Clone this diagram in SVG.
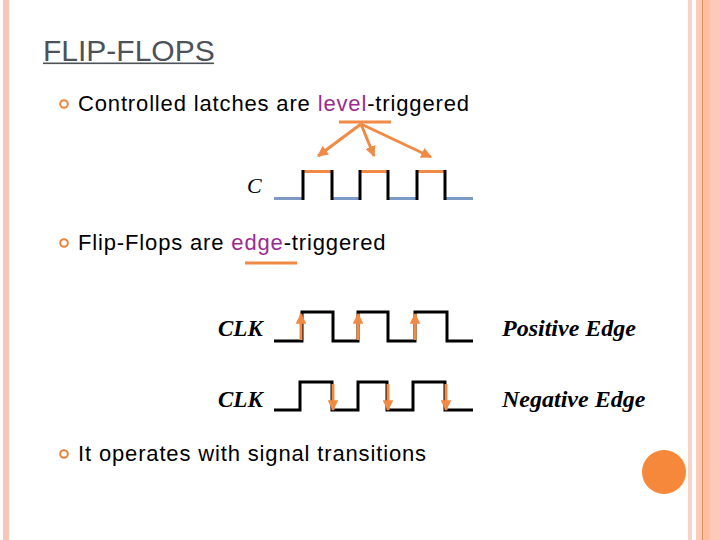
<svg xmlns="http://www.w3.org/2000/svg" width="720" height="540" viewBox="0 0 720 540">
<defs>
<style>
.t{font-family:"Liberation Sans",Arial,sans-serif;fill:#000;font-size:22px;letter-spacing:0.85px}
.tm{font-family:"Liberation Serif","Times New Roman",serif;font-style:italic;font-weight:bold;fill:#000}
.blk{fill:none;stroke:#000;stroke-width:3}
.org{fill:none;stroke:#f08a44;stroke-width:3}
.blu{fill:none;stroke:#7b9ac6;stroke-width:3}
.bul{fill:none;stroke:#e8843c;stroke-width:2}
</style>
<marker id="ah" viewBox="0 0 10 10" refX="9" refY="5" markerWidth="3.6" markerHeight="3.6" orient="auto" markerUnits="strokeWidth">
<path d="M0,0 L10,5 L0,10 z" fill="#f08a44"/>
</marker>
</defs>
<rect width="720" height="540" fill="#fff"/>
<g id="borders">
<rect x="3" y="0" width="6" height="540" fill="#f9c6b3"/>
<rect x="688" y="0" width="4" height="540" fill="#f8d2c2"/>
<rect x="696" y="0" width="6" height="540" fill="#fbcbb6"/>
<rect x="702" y="0" width="1.5" height="540" fill="#d98e5e"/>
<rect x="703.5" y="0" width="6.5" height="540" fill="#fdbf9f"/>
<rect x="710" y="0" width="10" height="540" fill="#fdc9b8"/>
</g>
<g id="title">
<text x="43" y="61" font-family="Liberation Sans, Arial, sans-serif" font-size="30" fill="#4d5259">FLIP-FLOPS</text>
<rect x="43" y="62.5" width="171" height="1.6" fill="#4d5259"/>
</g>
<g id="bullet1">
<circle cx="64" cy="104" r="3.8" class="bul"/>
<text x="78" y="111" class="t">Controlled latches are <tspan style="fill:#9c2c91">level</tspan>-triggered</text>
<line x1="339" y1="122" x2="391" y2="122" class="org"/>
</g>
<g id="c-wave">
<text x="247" y="193" font-family="Liberation Serif, Times New Roman, serif" font-style="italic" font-size="22">C</text>
<path d="M274,198.5 H303 M332,198.5 H360 M388,198.5 H417 M445,198.5 H473" class="blu"/>
<path d="M303,171.5 H332 M360,171.5 H388 M417,171.5 H445" class="org"/>
<path d="M303,200 V170 M332,200 V170 M360,200 V170 M388,200 V170 M417,200 V170 M445,200 V170" class="blk"/>
</g>
<g id="bullet2">
<circle cx="64" cy="243" r="3.8" class="bul"/>
<text x="78" y="250" class="t">Flip-Flops are <tspan style="fill:#9c2c91">edge</tspan>-triggered</text>
<line x1="245" y1="263" x2="297" y2="263" class="org"/>
</g>
<g id="clk-pos">
<text x="218" y="336" class="tm" font-size="23">CLK</text>
<path d="M274,341 H302 V312 H333 V341 H358 V312 H388 V341 H415 V312 H447 V341 H473" class="blk"/>
<text x="502" y="336" class="tm" font-size="24">Positive Edge</text>
</g>
<g id="clk-neg">
<text x="218" y="407" class="tm" font-size="23">CLK</text>
<path d="M274,410 H300 V382 H332 V410 H358 V382 H387 V410 H413 V382 H445 V410 H473" class="blk"/>
<text x="502" y="407" class="tm" font-size="24">Negative Edge</text>
</g>
<g id="bullet3">
<circle cx="64" cy="454" r="3.8" class="bul"/>
<text x="78" y="461" class="t">It operates with signal transitions</text>
</g>
<g id="dot">
<circle cx="664" cy="472" r="22" fill="#f5883a"/>
</g>
<g id="connectors">
<line x1="361" y1="124" x2="318" y2="156" class="org" marker-end="url(#ah)"/>
<line x1="361" y1="124" x2="374" y2="156" class="org" marker-end="url(#ah)"/>
<line x1="361" y1="124" x2="431" y2="157" class="org" marker-end="url(#ah)"/>
<line x1="301" y1="340" x2="301" y2="314" class="org" marker-end="url(#ah)"/>
<line x1="358" y1="340" x2="358" y2="314" class="org" marker-end="url(#ah)"/>
<line x1="415" y1="340" x2="415" y2="314" class="org" marker-end="url(#ah)"/>
<line x1="333" y1="384" x2="333" y2="410" class="org" marker-end="url(#ah)"/>
<line x1="388" y1="384" x2="388" y2="410" class="org" marker-end="url(#ah)"/>
<line x1="446" y1="384" x2="446" y2="410" class="org" marker-end="url(#ah)"/>
</g>
</svg>
